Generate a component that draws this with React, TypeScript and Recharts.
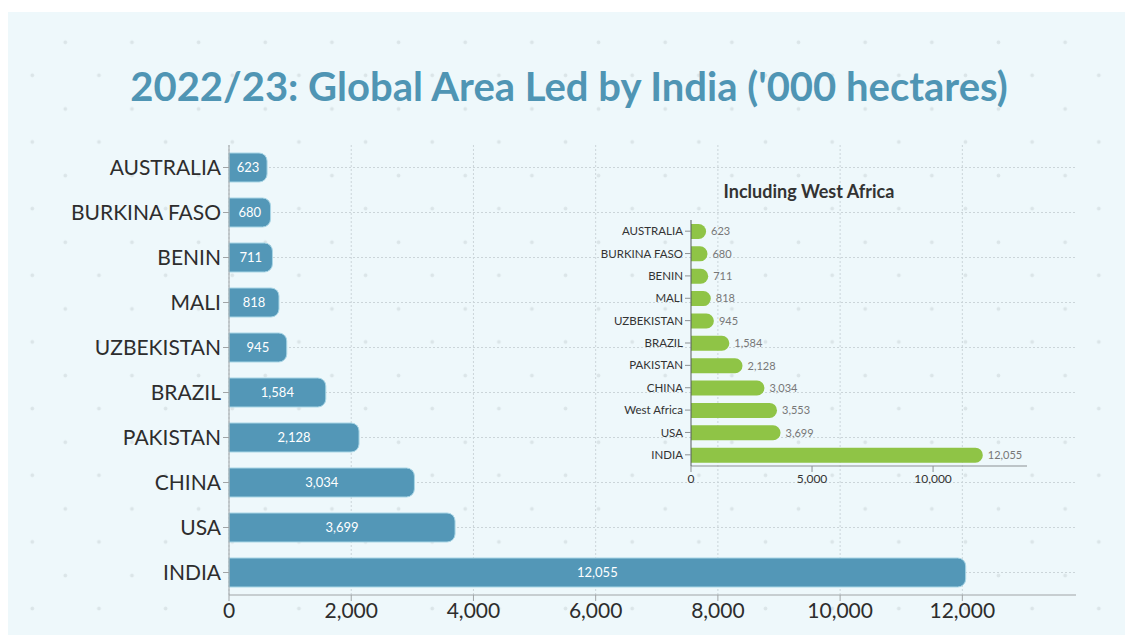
import { Bar, BarChart, CartesianGrid, LabelList, XAxis, YAxis } from "recharts";

// main chart (top to bottom)
const countries = ["AUSTRALIA", "BURKINA FASO", "BENIN", "MALI", "UZBEKISTAN", "BRAZIL", "PAKISTAN", "CHINA", "USA", "INDIA"];
const areas = [623, 680, 711, 818, 945, 1584, 2128, 3034, 3699, 12055];
const mainTicks = [0, 2000, 4000, 6000, 8000, 10000, 12000];

// inset chart, West Africa added
const insetCountries = ["AUSTRALIA", "BURKINA FASO", "BENIN", "MALI", "UZBEKISTAN", "BRAZIL", "PAKISTAN", "CHINA", "West Africa", "USA", "INDIA"];
const insetAreas = [623, 680, 711, 818, 945, 1584, 2128, 3034, 3553, 3699, 12055];
const insetTicks = [0, 5000, 10000];

const mainData = countries.map((name, i) => ({ name, value: areas[i] }));
const insetData = insetCountries.map((name, i) => ({ name, value: insetAreas[i] }));

const fmt = (v: number) => v.toLocaleString("en-US");
const FONT = "Lato, 'Open Sans', sans-serif";

// faint dotted backdrop
const dot = "radial-gradient(circle at 33.3px 33.3px, #dbe5e8 1.5px, transparent 2.3px)";

export default function App() {
  return (
    <div
      style={{
        position: "relative",
        width: 1133,
        height: 643,
        margin: -8,
        background: "#ffffff",
        fontFamily: FONT,
        overflow: "hidden",
      }}
    >
      <div
        style={{
          position: "absolute",
          left: 5,
          top: 12,
          width: 1123,
          height: 631,
          backgroundColor: "#eef8fb",
          backgroundImage: `${dot}, ${dot}`,
          backgroundSize: "66.67px 66.67px, 66.67px 66.67px",
          backgroundPosition: "27px -3px, -6px 30px",
        }}
      />
      <div
        style={{
          position: "absolute",
          left: 0,
          width: 1138,
          top: 60,
          textAlign: "center",
          fontSize: 40,
          fontWeight: 700,
          color: "#4f95b4",
          lineHeight: "52px",
        }}
      >
        2022/23: Global Area Led by India ('000 hectares)
      </div>

      <div style={{ position: "absolute", left: 0, top: 0 }}>
        <BarChart
          width={1133}
          height={643}
          data={mainData}
          layout="vertical"
          margin={{ top: 145, right: 57, left: 0, bottom: 0 }}
        >
          <CartesianGrid stroke="#cbd5d9" strokeDasharray="2 2" syncWithTicks />
          <XAxis
            type="number"
            domain={[0, 13860]}
            ticks={mainTicks}
            tickFormatter={fmt}
            height={48}
            tick={{ fontSize: 21, fill: "#2d2d2d", fontFamily: FONT }}
            axisLine={{ stroke: "#a0a4a6" }}
            tickLine={{ stroke: "#a0a4a6" }}
          />
          <YAxis
            type="category"
            dataKey="name"
            width={229}
            tick={{ fontSize: 21, fill: "#2d2d2d", fontFamily: FONT }}
            axisLine={{ stroke: "#a0a4a6" }}
            tickLine={{ stroke: "#a0a4a6" }}
          />
          <Bar
            dataKey="value"
            fill="#5397b7"
            stroke="#a9d6e6"
            strokeWidth={1}
            barSize={29}
            radius={[0, 8, 8, 0]}
            isAnimationActive={false}
          >
            <LabelList
              dataKey="value"
              position="center"
              formatter={(v: any) => fmt(Number(v))}
              fill="#ffffff"
              style={{ fontSize: 13, fontFamily: FONT }}
            />
          </Bar>
        </BarChart>
      </div>

      <div
        style={{
          position: "absolute",
          left: 709,
          width: 200,
          top: 179,
          textAlign: "center",
          fontSize: 18,
          fontWeight: 700,
          color: "#333333",
          lineHeight: "24px",
        }}
      >
        Including West Africa
      </div>

      <div style={{ position: "absolute", left: 560, top: 210 }}>
        <BarChart
          width={480}
          height={290}
          data={insetData}
          layout="vertical"
          margin={{ top: 10, right: 13, left: 0, bottom: 0 }}
        >
          <XAxis
            type="number"
            domain={[0, 13880]}
            ticks={insetTicks}
            tickFormatter={fmt}
            height={34}
            tick={{ fontSize: 12, fill: "#333333", fontFamily: FONT }}
            axisLine={{ stroke: "#8c9194" }}
            tickLine={{ stroke: "#8c9194" }}
          />
          <YAxis
            type="category"
            dataKey="name"
            width={131}
            tick={{ fontSize: 11.5, fill: "#333333", fontFamily: FONT }}
            axisLine={{ stroke: "#555a5c" }}
            tickLine={{ stroke: "#8c9194" }}
            interval={0}
          />
          <Bar
            dataKey="value"
            fill="#8fc446"
            barSize={15}
            radius={[0, 8, 8, 0]}
            isAnimationActive={false}
          >
            <LabelList
              dataKey="value"
              position="right"
              offset={5}
              formatter={(v: any) => fmt(Number(v))}
              fill="#777777"
              style={{ fontSize: 11, fontFamily: FONT }}
            />
          </Bar>
        </BarChart>
      </div>
    </div>
  );
}
